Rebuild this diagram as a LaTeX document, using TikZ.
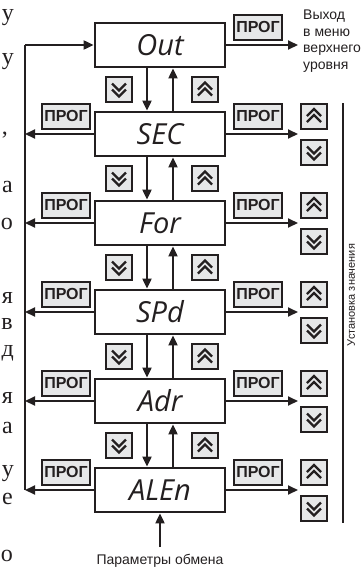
\documentclass[tikz,border=0pt]{standalone}
\usepackage{fontspec}
\setmainfont{Liberation Serif}
\newfontfamily\menufont{Open Sans}
\newfontfamily\labelfont{Liberation Sans}
\usepackage{tikz}
\usetikzlibrary{
    arrows.meta
}
\definecolor{ink}{HTML}{231F20}
\definecolor{btngray}{HTML}{E6E7E8}

\begin{document}
\begin{tikzpicture}[x=1pt,y=-1pt,
  menubox/.style={draw=ink,line width=2.8pt,minimum width=130pt,minimum height=44pt,
    inner sep=0pt,text height=20pt,text depth=0pt,text=ink,
    font=\menufont\itshape\fontsize{29}{30}\selectfont},
  progbtn/.style={draw=ink,fill=btngray,line width=2pt,minimum width=48pt,
    minimum height=25pt,inner sep=0pt,text=ink,
    font=\labelfont\bfseries\fontsize{16}{16}\selectfont},
  chevbtn/.style={draw=ink,fill=btngray,line width=2pt,minimum width=26pt,
    minimum height=25pt,inner sep=0pt},
  upbtn/.style={chevbtn,path picture={\draw[ink,line width=2.3pt,
    shift={(path picture bounding box.center)}]
    (-7,6)--(0,-1)--(7,6) (-7,0)--(0,-7)--(7,0);}},
  dnbtn/.style={chevbtn,path picture={\draw[ink,line width=2.3pt,
    shift={(path picture bounding box.center)}]
    (-7,-6)--(0,1)--(7,-6) (-7,0)--(0,7)--(7,0);}},
  link/.style={draw=ink,line width=2pt},
  arr/.style={link,-{Triangle[length=10pt,width=9pt]}},
  edgechar/.style={font=\fontsize{24}{24}\selectfont,inner sep=0pt,
    anchor=base east,text=ink},
  note/.style={font=\labelfont\fontsize{14}{16.5}\selectfont,inner sep=0pt,text=ink}
]
\useasboundingbox (0,0) rectangle (360,568);
%\draw [help lines,step=10] (0,0) grid (360,568);
% line ends of the text beside the picture
\node [edgechar] (m1) at (14,20) {у};
\node [edgechar] (m2) at (14,64) {у};
\node [edgechar] (m3) at (8,134) {,};
\node [edgechar] (m4) at (13,192.5) {а};
\node [edgechar] (m5) at (13,229.5) {о};
\node [edgechar] (m6) at (13,303.5) {я};
\node [edgechar] (m7) at (13,329.5) {в};
\node [edgechar] (m8) at (14,356.5) {д};
\node [edgechar] (m9) at (13,403.5) {я};
\node [edgechar] (m10) at (13,433.5) {а};
\node [edgechar] (m11) at (14,476.5) {у};
\node [edgechar] (m12) at (13,504.5) {е};
\node [edgechar] (m13) at (13,561.5) {о};
% menu items
\node [menubox] (out) at (160,45) {Out};
\node [menubox] (sec) at (160,134) {SEC};
\node [menubox] (for) at (160,223) {For};
\node [menubox] (spd) at (160,312) {SPd};
\node [menubox] (adr) at (160,401) {Adr};
\node [menubox] (alen) at (160,490) {ALEn};
% buttons between the items
\node [dnbtn] (d1) at (119,89.5) {};
\node [upbtn] (u1) at (205,89.5) {};
\node [dnbtn] (d2) at (119,178.5) {};
\node [upbtn] (u2) at (205,178.5) {};
\node [dnbtn] (d3) at (119,267.5) {};
\node [upbtn] (u3) at (205,267.5) {};
\node [dnbtn] (d4) at (119,356.5) {};
\node [upbtn] (u4) at (205,356.5) {};
\node [dnbtn] (d5) at (119,445.5) {};
\node [upbtn] (u5) at (205,445.5) {};
% PROG buttons
\node [progbtn] (pr0) at (258,27) {ПРОГ};
\node [progbtn] (pl1) at (66,116) {ПРОГ};
\node [progbtn] (pr1) at (258,116) {ПРОГ};
\node [progbtn] (pl2) at (66,205) {ПРОГ};
\node [progbtn] (pr2) at (258,205) {ПРОГ};
\node [progbtn] (pl3) at (66,294) {ПРОГ};
\node [progbtn] (pr3) at (258,294) {ПРОГ};
\node [progbtn] (pl4) at (66,383) {ПРОГ};
\node [progbtn] (pr4) at (258,383) {ПРОГ};
\node [progbtn] (pl5) at (66,472) {ПРОГ};
\node [progbtn] (pr5) at (258,472) {ПРОГ};
% value setting buttons
\node [upbtn] (vu1) at (314,116) {};
\node [dnbtn] (vd1) at (314,152.5) {};
\node [upbtn] (vu2) at (314,205) {};
\node [dnbtn] (vd2) at (314,241.5) {};
\node [upbtn] (vu3) at (314,294) {};
\node [dnbtn] (vd3) at (314,330.5) {};
\node [upbtn] (vu4) at (314,383) {};
\node [dnbtn] (vd4) at (314,419.5) {};
\node [upbtn] (vu5) at (314,472) {};
\node [dnbtn] (vd5) at (314,508.5) {};
% labels
\node [note,anchor=north west,align=left] (exit) at (303,10)
  {Выход\\в меню\\верхнего\\уровня};
\node [note,anchor=base] (param) at (160,564) {Параметры обмена};
\node [note,rotate=90,anchor=north,font=\labelfont\fontsize{11}{11}\selectfont]
  (setlbl) at (347,295) {Установка значения};
% end points
\coordinate (lout) at (25,45);
\coordinate (lsec) at (25,134);
\coordinate (lfor) at (25,223);
\coordinate (lspd) at (25,312);
\coordinate (ladr) at (25,401);
\coordinate (lalen) at (25,490);
\coordinate (rout) at (298,45);
\coordinate (rsec) at (298,134);
\coordinate (rfor) at (298,223);
\coordinate (rspd) at (298,312);
\coordinate (radr) at (298,401);
\coordinate (ralen) at (298,490);
\coordinate (ttop) at (343,103);
\coordinate (tbot) at (343,523);
\coordinate (src) at (160,547);
% left return line
\draw [link] (lalen) -- (lout);
\draw [arr] (lout) -- (out.west);
\draw [arr] (sec.west) -- (lsec);
\draw [arr] (for.west) -- (lfor);
\draw [arr] (spd.west) -- (lspd);
\draw [arr] (adr.west) -- (ladr);
\draw [arr] (alen.west) -- (lalen);
% right arrows
\draw [arr] (out.east) -- (rout);
\draw [arr] (sec.east) -- (rsec);
\draw [arr] (for.east) -- (rfor);
\draw [arr] (spd.east) -- (rspd);
\draw [arr] (adr.east) -- (radr);
\draw [arr] (alen.east) -- (ralen);
\draw [link] (ttop) -- (tbot);
% down and up
\draw [arr] ([xshift=-13pt]out.south) -- ([xshift=-13pt]sec.north);
\draw [arr] ([xshift=13pt]sec.north) -- ([xshift=13pt]out.south);
\draw [arr] ([xshift=-13pt]sec.south) -- ([xshift=-13pt]for.north);
\draw [arr] ([xshift=13pt]for.north) -- ([xshift=13pt]sec.south);
\draw [arr] ([xshift=-13pt]for.south) -- ([xshift=-13pt]spd.north);
\draw [arr] ([xshift=13pt]spd.north) -- ([xshift=13pt]for.south);
\draw [arr] ([xshift=-13pt]spd.south) -- ([xshift=-13pt]adr.north);
\draw [arr] ([xshift=13pt]adr.north) -- ([xshift=13pt]spd.south);
\draw [arr] ([xshift=-13pt]adr.south) -- ([xshift=-13pt]alen.north);
\draw [arr] ([xshift=13pt]alen.north) -- ([xshift=13pt]adr.south);
\draw [arr] (src) -- (alen.south);
\end{tikzpicture}
\end{document}
